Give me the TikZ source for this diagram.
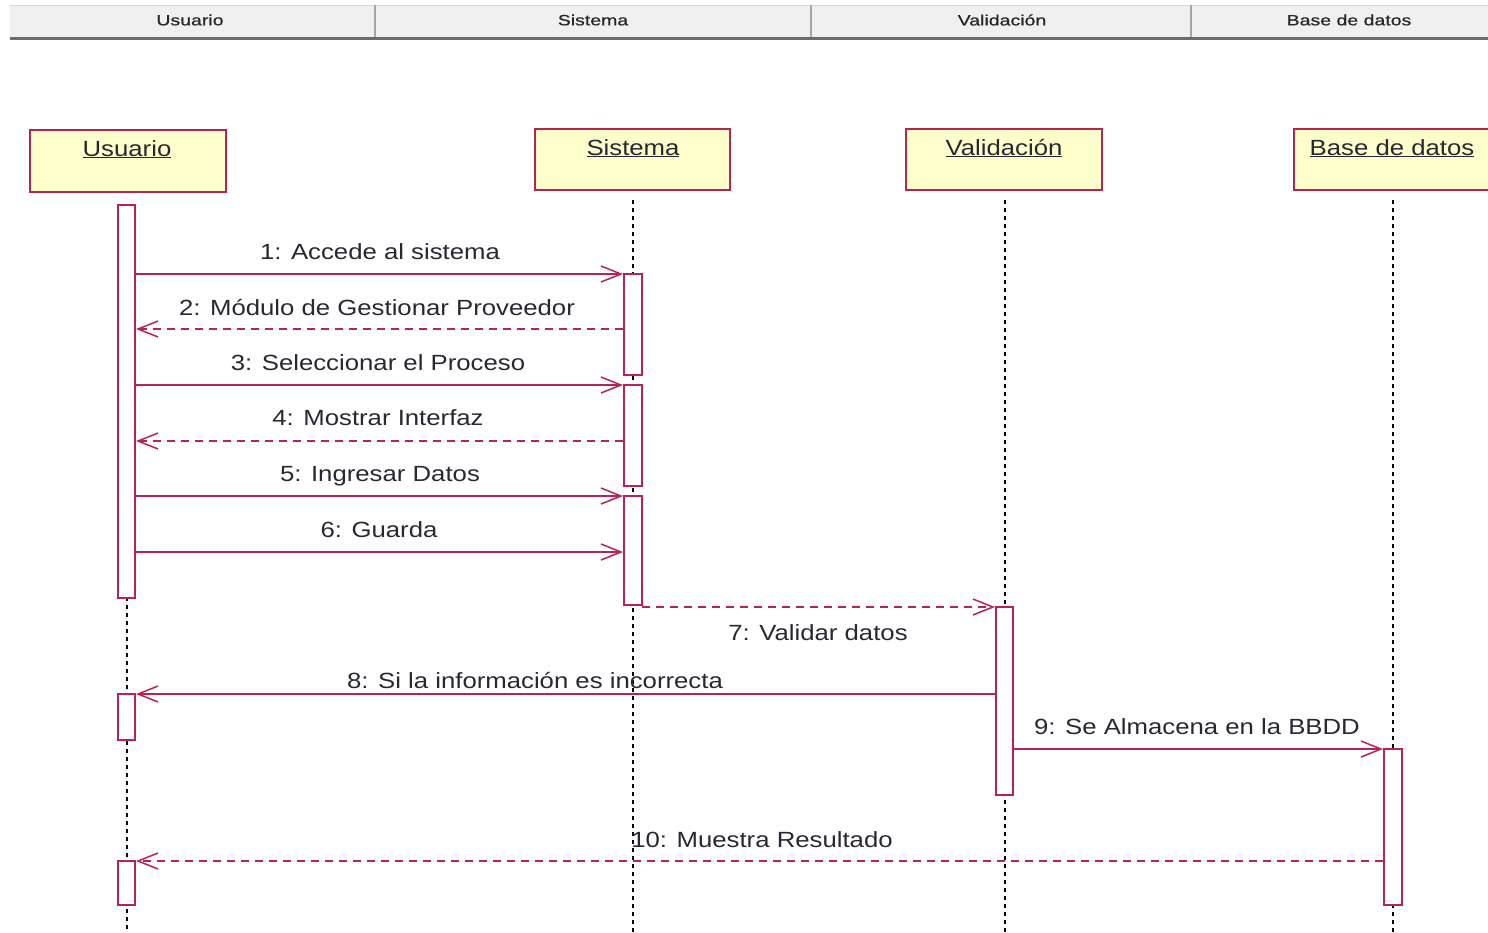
\documentclass[tikz,border=0pt]{standalone}
\usepackage{fontspec}
\setmainfont[FakeStretch=1.17]{Liberation Sans}
\newfontfamily\hdrfont[FakeStretch=1.3,FakeBold=0.6]{Liberation Sans}
\usetikzlibrary{arrows.meta}
\definecolor{umlred}{RGB}{185,35,80}
\definecolor{boxfill}{RGB}{255,255,204}
\definecolor{txt}{RGB}{40,40,50}
\begin{document}
\begin{tikzpicture}[x=1pt,y=-1pt,
 objbox/.style={draw=umlred, line width=1.6pt, fill=boxfill},
 objlabel/.style={font=\fontsize{22}{24}\selectfont, text=txt, anchor=base},
 lifeline/.style={draw=black, line width=1.9pt, dash pattern=on 4pt off 4pt},
 actbar/.style={draw=umlred, line width=1.6pt, fill=white},
 msg/.style={draw=umlred, line width=1.5pt, -{Straight Barb[length=20pt,width=16pt]}},
 reply/.style={msg, dash pattern=on 8pt off 6pt},
 msglabel/.style={font=\fontsize{22}{24}\selectfont, text=txt, anchor=base},
 hdrlabel/.style={font=\hdrfont\fontsize{15}{17}\selectfont, text=black!85}
]
\useasboundingbox (0,0) rectangle (1488,932);
\begin{scope}
\clip (0,0) rectangle (1488,932);
% header
\fill[gray!12] (10,5) rectangle (1490,37);
\draw[gray!30, line width=1pt] (10,5) -- (1490,5);
\draw[gray!85!black, line width=3.5pt] (10,38.5) -- (1490,38.5);
\draw[gray!70, line width=2pt] (375,5) -- (375,37);
\draw[gray!70, line width=2pt] (811,5) -- (811,37);
\draw[gray!70, line width=2pt] (1191,5) -- (1191,37);
\node[hdrlabel] (h1) at (190,20) {Usuario};
\node[hdrlabel] (h2) at (593,20) {Sistema};
\node[hdrlabel] (h3) at (1002,20) {Validación};
\node[hdrlabel] (h4) at (1349,20) {Base de datos};
% objects
\draw[objbox] (30,130) rectangle (226,192);
\draw[objbox] (535,129) rectangle (730,190);
\draw[objbox] (906,129) rectangle (1102,190);
\draw[objbox] (1294,129) rectangle (1500,190);
\node[objlabel] (o1) at (127,156) {\underline{Usuario}};
\node[objlabel] (o2) at (633,155) {\underline{Sistema}};
\node[objlabel] (o3) at (1004,155) {\underline{Validación}};
\node[objlabel] (o4) at (1392,155) {\underline{Base de datos}};
% lifelines
\coordinate (u0) at (127,205); \coordinate (u1) at (127,932);
\coordinate (s0) at (633,200); \coordinate (s1) at (633,932);
\coordinate (v0) at (1005,200); \coordinate (v1) at (1005,932);
\coordinate (b0) at (1393,200); \coordinate (b1) at (1393,932);
\draw[lifeline] (u0) -- (u1);
\draw[lifeline] (s0) -- (s1);
\draw[lifeline] (v0) -- (v1);
\draw[lifeline] (b0) -- (b1);
% activation bars
\draw[actbar] (118,205) rectangle (135,598);
\draw[actbar] (118,694) rectangle (135,740);
\draw[actbar] (118,861) rectangle (135,905);
\draw[actbar] (624,274) rectangle (642,375);
\draw[actbar] (624,385) rectangle (642,486);
\draw[actbar] (624,496) rectangle (642,605);
\draw[actbar] (996,607) rectangle (1013,795);
\draw[actbar] (1384,749) rectangle (1402,905);
% message end points
\coordinate (m1a) at (135,274); \coordinate (m1b) at (623,274);
\coordinate (m2a) at (623,329); \coordinate (m2b) at (136,329);
\coordinate (m3a) at (135,385); \coordinate (m3b) at (623,385);
\coordinate (m4a) at (623,441); \coordinate (m4b) at (136,441);
\coordinate (m5a) at (135,496); \coordinate (m5b) at (623,496);
\coordinate (m6a) at (135,552); \coordinate (m6b) at (623,552);
\coordinate (m7a) at (642,607); \coordinate (m7b) at (995,607);
\coordinate (m8a) at (995,694); \coordinate (m8b) at (136,694);
\coordinate (m9a) at (1013,749); \coordinate (m9b) at (1383,749);
\coordinate (m10a) at (1383,861); \coordinate (m10b) at (136,861);
\draw[msg] (m1a) -- (m1b);
\draw[reply] (m2a) -- (m2b);
\draw[msg] (m3a) -- (m3b);
\draw[reply] (m4a) -- (m4b);
\draw[msg] (m5a) -- (m5b);
\draw[msg] (m6a) -- (m6b);
\draw[reply] (m7a) -- (m7b);
\draw[msg] (m8a) -- (m8b);
\draw[msg] (m9a) -- (m9b);
\draw[reply] (m10a) -- (m10b);
% labels
\node[msglabel] (l1) at (380,259) {1: Accede al sistema};
\node[msglabel] (l2) at (377,315) {2: Módulo de Gestionar Proveedor};
\node[msglabel] (l3) at (378,370) {3: Seleccionar el Proceso};
\node[msglabel] (l4) at (378,425) {4: Mostrar Interfaz};
\node[msglabel] (l5) at (380,481) {5: Ingresar Datos};
\node[msglabel] (l6) at (379,537) {6: Guarda};
\node[msglabel] (l7) at (818,640) {7: Validar datos};
\node[msglabel] (l8) at (535,688) {8: Si la información es incorrecta};
\node[msglabel] (l9) at (1197,734) {9: Se Almacena en la BBDD};
\node[msglabel] (l10) at (762,847) {10: Muestra Resultado};
\end{scope}
\end{tikzpicture}
\end{document}
